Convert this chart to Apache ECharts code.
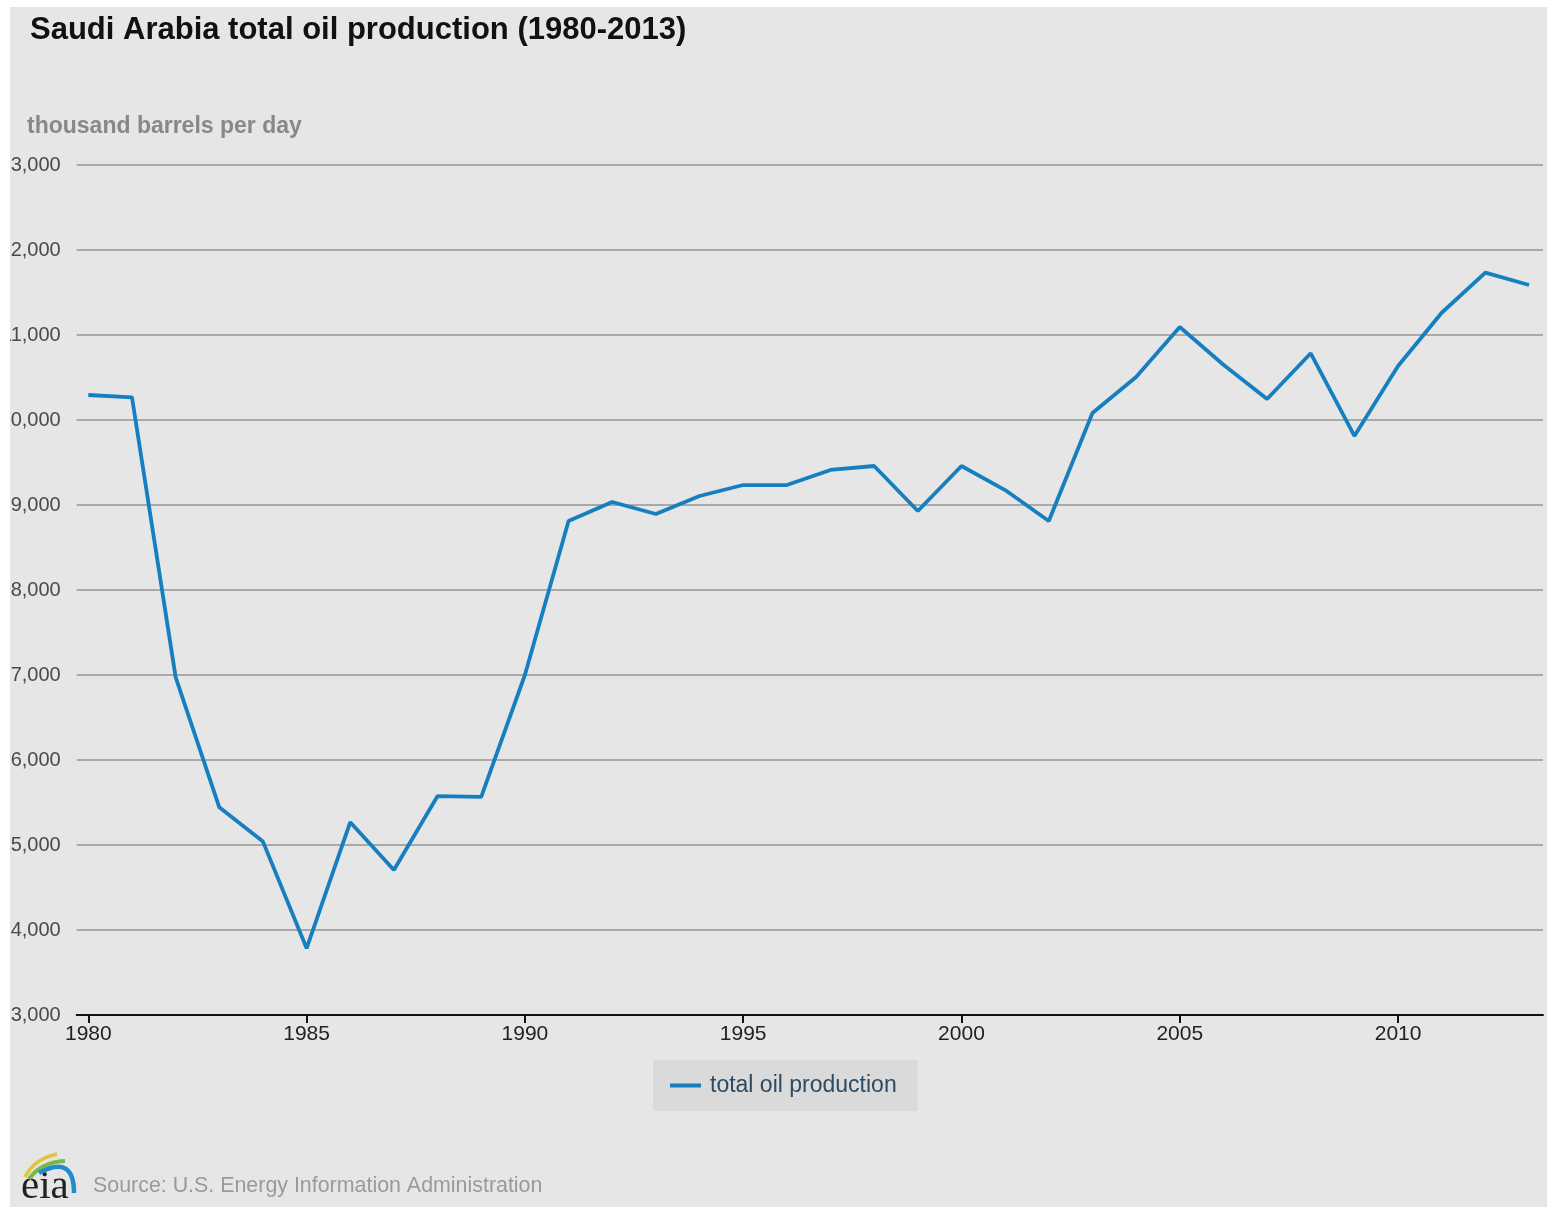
<!DOCTYPE html>
<html>
<head>
<meta charset="utf-8">
<script src="https://cdn.jsdelivr.net/npm/echarts@6/dist/echarts.min.js"></script>
<style>
  html, body { margin: 0; padding: 0; background: #ffffff; }
  #chart { position: absolute; left: 10px; top: 7px; width: 1537px; height: 1200px; background: #e6e6e6; overflow: hidden; }
</style>
</head>
<body>
<div id="chart"></div>
<script>
const titleText = 'Saudi Arabia total oil production (1980-2013)';
const unitText = 'thousand barrels per day';
const sourceText = 'Source: U.S. Energy Information Administration';
const seriesName = 'total oil production';

const years = [1980, 1981, 1982, 1983, 1984, 1985, 1986, 1987, 1988, 1989,
               1990, 1991, 1992, 1993, 1994, 1995, 1996, 1997, 1998, 1999,
               2000, 2001, 2002, 2003, 2004, 2005, 2006, 2007, 2008, 2009,
               2010, 2011, 2012, 2013];
const production = [10294, 10267, 6975, 5443, 5040, 3785, 5268, 4706, 5576, 5565,
                    7000, 8812, 9035, 8894, 9106, 9235, 9235, 9412, 9459, 8929,
                    9459, 9176, 8812, 10082, 10505, 11094, 10650, 10247, 10785, 9812,
                    10635, 11262, 11733, 11588];
const xTickYears = [1980, 1985, 1990, 1995, 2000, 2005, 2010];
const yMin = 3000, yMax = 13000, yStep = 1000;

const chart = echarts.init(document.getElementById('chart'));
const FONT = '"Liberation Sans", Arial, Helvetica, sans-serif';

const option = {
  backgroundColor: '#e6e6e6',
  animation: false,
  grid: { left: 66.7, right: 4, top: 158, bottom: 192, containLabel: false, outerBoundsMode: 'none' },
  xAxis: {
    type: 'value',
    min: 1979.734,
    max: 2013.32,
    axisLine: { show: true, lineStyle: { color: '#111', width: 2 } },
    axisTick: { show: true, length: 8, lineStyle: { color: '#111', width: 2 }, customValues: xTickYears },
    axisLabel: {
      customValues: xTickYears,
      formatter: v => String(v),
      color: '#222', fontFamily: FONT, fontSize: 21, margin: 9
    },
    splitLine: { show: false }
  },
  yAxis: {
    type: 'value',
    min: yMin, max: yMax, interval: yStep,
    axisLine: { show: false },
    axisTick: { show: false },
    axisLabel: {
      formatter: v => v.toLocaleString('en-US'),
      color: '#4a4a4a', fontFamily: FONT, fontSize: 20, margin: 16
    },
    splitLine: { show: true, lineStyle: { color: '#a9a9a9', width: 2 } }
  },
  legend: {
    left: 643, top: 1053,
    padding: [14, 21, 14, 17],
    backgroundColor: '#dadada',
    itemWidth: 31, itemHeight: 4,
    textStyle: { color: '#2e4a62', fontFamily: FONT, fontSize: 23, lineHeight: 23, padding: [0, 0, 0, 4] },
    data: [{ name: seriesName, icon: 'rect' }]
  },
  series: [{
    name: seriesName,
    type: 'line',
    data: years.map((y, i) => [y, production[i]]),
    symbol: 'none',
    lineStyle: { color: '#167fc0', width: 3.8 },
    itemStyle: { color: '#167fc0' }
  }],
  graphic: [
    { type: 'text', left: 20, top: 8, style: { text: titleText, font: 'bold 31px ' + FONT, fill: '#111' } },
    { type: 'text', left: 17, top: 108, style: { text: unitText, font: 'bold 23px ' + FONT, fill: '#888' } },
    { type: 'text', left: 83, top: 1169, style: { text: sourceText, font: '21.4px ' + FONT, fill: '#9a9a9a' } },
    { type: 'text', left: 11, top: 1160, style: { text: 'eia', font: '41px "Liberation Serif", "DejaVu Serif", serif', fill: '#222' } },
    { type: 'bezierCurve', shape: { x1: 15, y1: 1170, cpx1: 24, cpy1: 1152, x2: 47, y2: 1147 }, style: { stroke: '#e3c43e', lineWidth: 3.5, fill: null } },
    { type: 'bezierCurve', shape: { x1: 19, y1: 1172, cpx1: 31, cpy1: 1155, x2: 55, y2: 1154 }, style: { stroke: '#7ab648', lineWidth: 4, fill: null } },
    { type: 'bezierCurve', shape: { x1: 29, y1: 1166, cpx1: 64, cpy1: 1147, x2: 64, y2: 1186 }, style: { stroke: '#1f8ccf', lineWidth: 4.5, fill: null } }
  ]
};
chart.setOption(option);
</script>
</body>
</html>
